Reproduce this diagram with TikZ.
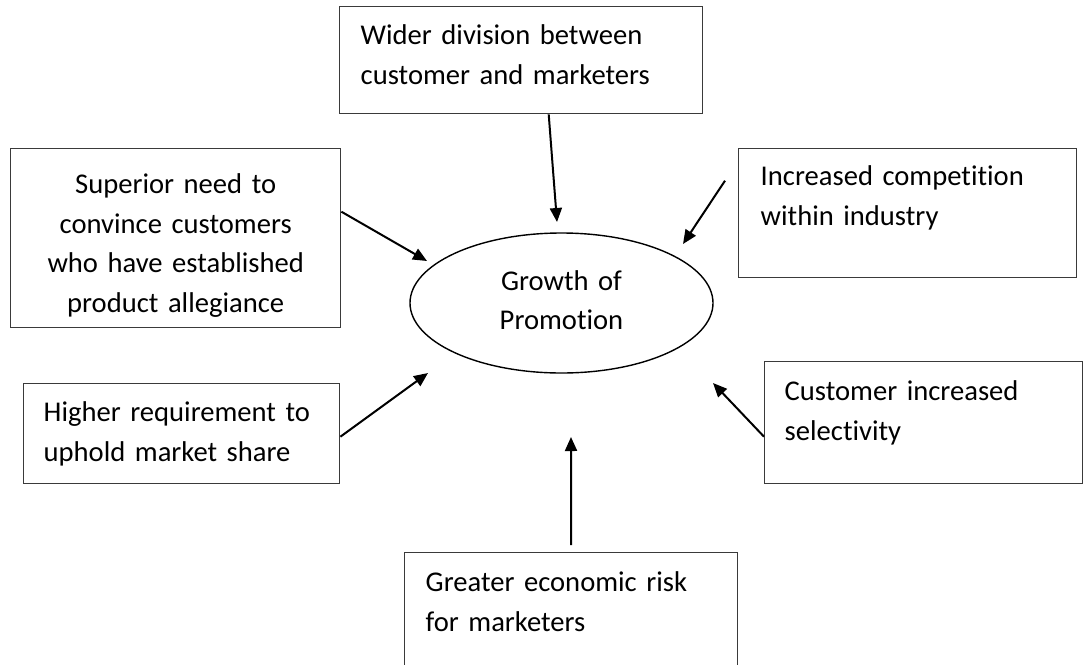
\documentclass[tikz,border=0pt]{standalone}
\usepackage{fontspec}
\setmainfont{Carlito}[Ligatures={NoCommon}]
\usetikzlibrary{arrows.meta,shapes.geometric}
\definecolor{boxline}{HTML}{3A3A3A}
\begin{document}
\begin{tikzpicture}[x=1pt,y=-1pt,
  every node/.style={font=\fontsize{28.6}{39.5}\selectfont},
  factor/.style={draw=boxline, line width=1.4pt, inner ysep=0pt, anchor=north west, align=left},
  feed/.style={line width=2pt, -{Triangle[length=14pt,width=12pt]}}]
\useasboundingbox (0,0) rectangle (1084,664);

% central ellipse
\node[draw, line width=1.4pt, ellipse, minimum width=303pt, minimum height=140pt,
      inner sep=0pt, text width=200pt, align=center, text height=20pt, text depth=46pt]
  (growth) at (561.5,303) {Growth of\\Promotion};

% surrounding factors
\node[factor, inner xsep=21pt, text width=321pt, text height=38pt, text depth=69pt]
  (wider) at (339,6) {Wider division between\\customer and marketers};
\node[factor, align=center, inner xsep=10pt, text width=310pt, text height=45pt, text depth=134pt]
  (superior) at (10,148) {Superior need to\\convince customers\\who have established\\product allegiance};
\node[factor, inner xsep=22pt, text width=294pt, text height=37pt, text depth=92pt]
  (increased) at (738,148) {Increased competition\\within industry};
\node[factor, inner xsep=20pt, text width=276pt, text height=38pt, text depth=62pt]
  (higher) at (23,383) {Higher requirement to\\uphold market share};
\node[factor, inner xsep=20pt, text width=278pt, text height=39pt, text depth=83pt]
  (customer) at (764,361) {Customer increased\\selectivity};
\node[factor, inner xsep=21pt, text width=291pt, text height=39pt, text depth=90pt]
  (greater) at (404,552) {Greater economic risk\\for marketers};

% arrow tips around the ellipse
\coordinate (tWider) at (557,222);
\coordinate (tSuperior) at (427,261);
\coordinate (tIncreased) at (683,244);
\coordinate (tHigher) at (428,373);
\coordinate (tCustomer) at (713,383);
\coordinate (tGreater) at (571,437);

\draw[feed] ([xshift=27.5pt]wider.south) -- (tWider);
\draw[feed] ([yshift=26.5pt]superior.east) -- (tSuperior);
\draw[feed] ([shift={(-13pt,32.5pt)}]increased.west) -- (tIncreased);
\draw[feed] ([yshift=-3pt]higher.east) -- (tHigher);
\draw[feed] ([yshift=-14pt]customer.west) -- (tCustomer);
\draw[feed] ([yshift=7pt]greater.north) -- (tGreater);
\end{tikzpicture}
\end{document}
